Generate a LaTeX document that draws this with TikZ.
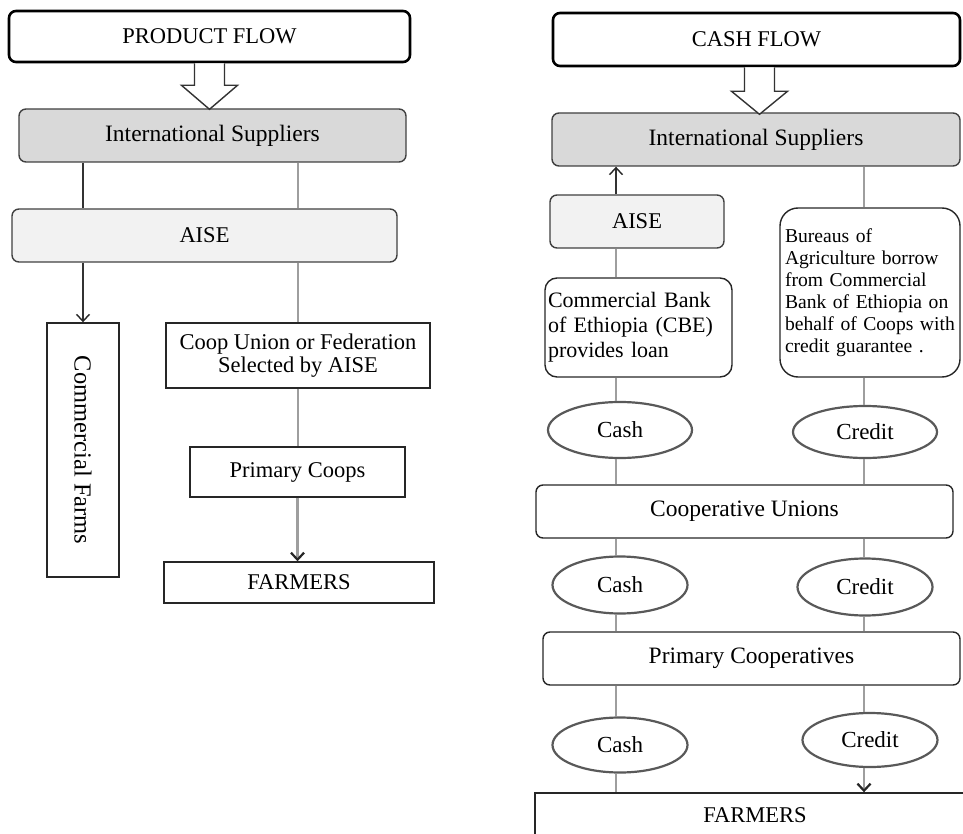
\documentclass[tikz,border=0pt]{standalone}
\usepackage{fontspec}
\setmainfont{Liberation Serif}
\usetikzlibrary{shapes.geometric,arrows.meta,calc}
\begin{document}
\begin{tikzpicture}[x=1pt,y=-1pt,
 base/.style={draw=black!85, line width=1.4pt, inner sep=2pt, font=\fontsize{22.5}{25}\selectfont, align=center},
 bigtext/.style={font=\fontsize{23.5}{26}\selectfont},
 titlebox/.style={base, draw=black, line width=2.6pt, rounded corners=7pt},
 suppbox/.style={base, bigtext, fill=black!15, draw=black!75, rounded corners=7pt},
 aisebox/.style={base, fill=black!5, draw=black!75, rounded corners=7pt},
 plainbox/.style={base},
 rbox/.style={base, bigtext, rounded corners=7pt},
 oval/.style={ellipse, draw=black!65, line width=2.2pt, fill=white, inner sep=0pt, font=\fontsize{23}{25}\selectfont},
 glink/.style={draw=black!38, line width=2.2pt},
 blink/.style={draw=black!80, line width=1.4pt},
 barbtip/.style={-{Straight Barb[length=7pt,width=13pt,color=black!85]}},
 blockarrow/.style={draw=black!80, line width=1.4pt, fill=white, line join=miter}
]
\useasboundingbox (0,0) rectangle (963,834);
\clip (0,0) rectangle (963,834);

% ---------- left: product flow ----------
\node[titlebox, minimum width=401pt, minimum height=51pt] (pf) at (209.5,36.5) {PRODUCT FLOW};
\node[suppbox, minimum width=387pt, minimum height=53pt] (isL) at (212.5,135.5) {International Suppliers};
\node[aisebox, minimum width=385pt, minimum height=53pt] (aiseL) at (204.5,235.5) {AISE};
\node[plainbox, rotate=-90, minimum width=254pt, minimum height=72pt, font=\fontsize{24.5}{27}\selectfont] (cf) at (83,450) {Commercial Farms};
\node[plainbox, minimum width=264pt, minimum height=65pt, font=\fontsize{22.5}{23.5}\selectfont] (coop) at (298,355.5) {Coop Union or Federation\\Selected by AISE};
\node[plainbox, minimum width=215pt, minimum height=50pt] (pcL) at (297.5,472) {Primary Coops};
\node[plainbox, minimum width=270pt, minimum height=41pt] (farmL) at (299,582.5) {FARMERS};

\draw[blockarrow] ($(pf.south)+(-15,0)$) -- ++(0,22) -- ++(-13,0) -- ($(pf.south)+(0,46)$)
  -- ($(pf.south)+(28,22)$) -- ++(-13,0) -- ($(pf.south)+(15,0)$);

\draw[blink] (isL.south -| cf.west) -- (aiseL.north -| cf.west);
\draw[blink, barbtip] (aiseL.south -| cf.west) -- (cf.west);
\draw[glink] (isL.south -| coop.north) -- (aiseL.north -| coop.north);
\draw[glink] (aiseL.south -| coop.north) -- (coop.north);
\draw[glink] (coop.south) -- (coop.south |- pcL.north);
\draw[glink, barbtip] (pcL.south) -- (pcL.south |- farmL.north);

% ---------- right: cash flow ----------
\node[titlebox, minimum width=407pt, minimum height=53pt] (cfl) at (756.5,39.5) {CASH FLOW};
\node[suppbox, minimum width=408pt, minimum height=53pt] (isR) at (756,139.5) {International Suppliers};
\node[aisebox, minimum width=174pt, minimum height=53pt] (aiseR) at (637,221.5) {AISE};
\node[base, rounded corners=12pt, minimum width=187pt, minimum height=99pt, text width=181pt, inner xsep=3pt, align=left, font=\fontsize{22}{25}\selectfont] (cbe) at (638.5,327.5) {Commercial Bank\\of Ethiopia (CBE)\\provides loan};
\node[base, rounded corners=18pt, minimum width=180pt, minimum height=169pt, text width=170pt, inner xsep=5pt, align=left, font=\fontsize{19.6}{22}\selectfont] (bur) at (870,292.5) {Bureaus of\\Agriculture borrow\\from Commercial\\Bank of Ethiopia on\\behalf of Coops with\\credit guarantee .};
\node[oval, minimum width=144pt, minimum height=56pt] (cash1) at (620,430) {Cash};
\node[oval, minimum width=144pt, minimum height=52pt] (cred1) at (865,432) {Credit};
\node[rbox, minimum width=417pt, minimum height=53pt] (cu) at (744.5,511.5) {Cooperative Unions};
\node[oval, minimum width=135pt, minimum height=57pt] (cash2) at (620,585) {Cash};
\node[oval, minimum width=135pt, minimum height=57pt] (cred2) at (865,587) {Credit};
\node[rbox, minimum width=417pt, minimum height=53pt] (pcR) at (751.5,658.5) {Primary Cooperatives};
\node[oval, minimum width=135pt, minimum height=55pt] (cash3) at (620,745) {Cash};
\node[oval, minimum width=135pt, minimum height=54pt] (cred3) at (870,740) {Credit};
\node[plainbox, minimum width=440pt, minimum height=44pt] (farmR) at (755,815) {FARMERS};

\draw[blockarrow] ($(cfl.south)+(-12,0)$) -- ++(0,24) -- ++(-13,0) -- ($(cfl.south)+(3,47)$)
  -- ($(cfl.south)+(31,24)$) -- ++(-13,0) -- ($(cfl.south)+(18,0)$);

\coordinate (cx) at (616,0);
\coordinate (kx) at (864,0);
\draw[blink, barbtip] (aiseR.north -| cx) -- (isR.south -| cx);
\draw[glink] (isR.south -| kx) -- (bur.north -| kx);
\draw[glink] (aiseR.south -| cx) -- (cbe.north -| cx);
\draw[glink] (cbe.south -| cx) -- (cash1.north -| cx);
\draw[glink] (bur.south -| kx) -- (cred1.north -| kx);
\draw[glink] (cash1.south -| cx) -- (cu.north -| cx);
\draw[glink] (cred1.south -| kx) -- (cu.north -| kx);
\draw[glink] (cu.south -| cx) -- (cash2.north -| cx);
\draw[glink] (cu.south -| kx) -- (cred2.north -| kx);
\draw[glink] (cash2.south -| cx) -- (pcR.north -| cx);
\draw[glink] (cred2.south -| kx) -- (pcR.north -| kx);
\draw[glink] (pcR.south -| cx) -- (cash3.north -| cx);
\draw[glink] (pcR.south -| kx) -- (cred3.north -| kx);
\draw[glink] (cash3.south -| cx) -- (farmR.north -| cx);
\draw[glink, barbtip] (cred3.south -| kx) -- (farmR.north -| kx);
\end{tikzpicture}
\end{document}
